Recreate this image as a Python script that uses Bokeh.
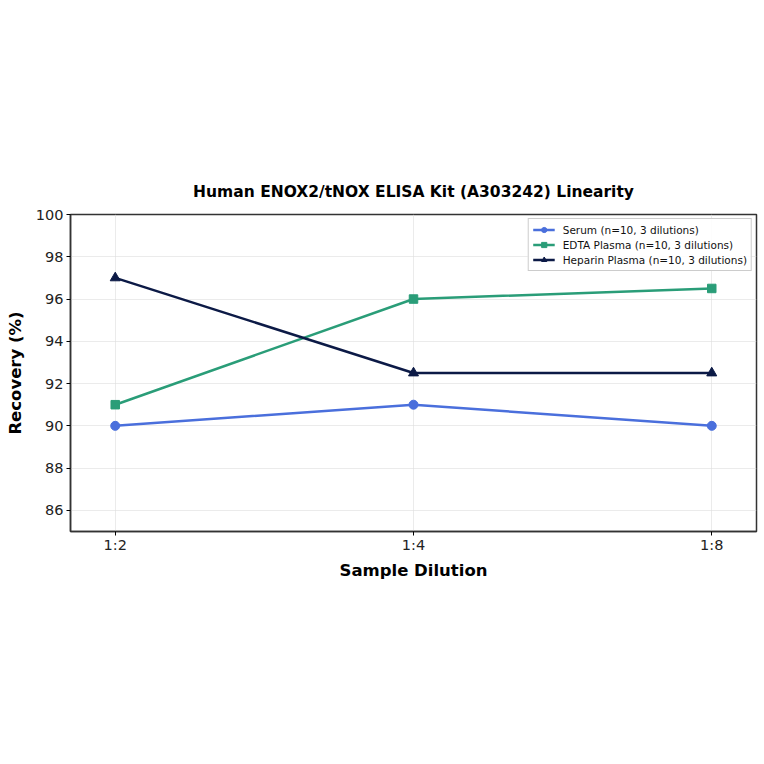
from bokeh.plotting import figure
from bokeh.embed import file_html
from bokeh.resources import INLINE
from bokeh.models import FixedTicker, Range1d, Legend, LegendItem

dilutions = ["1:2", "1:4", "1:8"]
serum = [90.0, 91.0, 90.0]
edta = [91.0, 96.0, 96.5]
heparin = [97.0, 92.5, 92.5]
y_ticks = [86, 88, 90, 92, 94, 96, 98, 100]

FONT = "DejaVu Sans"
xs = list(range(len(dilutions)))

p = figure(width=760, height=748, output_backend="svg", toolbar_location=None,
           x_range=Range1d(-0.15, 2.15), y_range=Range1d(85, 100),
           min_border_left=70, min_border_right=4, min_border_top=214, min_border_bottom=217)

p.title.text = "Human ENOX2/tNOX ELISA Kit (A303242) Linearity"
p.title.text_font = FONT
p.title.text_font_size = "15.5px"
p.title.text_font_style = "bold"
p.title.align = "center"
p.title.text_color = "black"
p.title.offset = 0
p.title.standoff = 27

p.outline_line_color = "#333333"
p.outline_line_width = 1.5

s1 = p.line(xs, serum, line_color="#4a6fdc", line_width=2.5)
m1 = p.scatter(xs, serum, marker="circle", size=9, fill_color="#4a6fdc", line_color="#4a6fdc")
s2 = p.line(xs, edta, line_color="#2a9d78", line_width=2.5)
m2 = p.scatter(xs, edta, marker="square", size=8.5, fill_color="#2a9d78", line_color="#2a9d78")
s3 = p.line(xs, heparin, line_color="#0c1a46", line_width=2.5)
m3 = p.scatter(xs, heparin, marker="triangle", size=10, fill_color="#0c1a46", line_color="#0c1a46")

legend = Legend(items=[
    LegendItem(label="Serum (n=10, 3 dilutions)", renderers=[s1, m1]),
    LegendItem(label="EDTA Plasma (n=10, 3 dilutions)", renderers=[s2, m2]),
    LegendItem(label="Heparin Plasma (n=10, 3 dilutions)", renderers=[s3, m3]),
], location="top_right")
legend.label_text_font = FONT
legend.label_text_font_size = "10.5px"
legend.label_text_color = "#111111"
legend.label_height = 13
legend.glyph_height = 13
legend.glyph_width = 22
legend.label_standoff = 8
legend.spacing = 2
legend.padding = 4
legend.margin = 4
legend.border_line_color = "#cccccc"
legend.border_line_alpha = 1
legend.background_fill_alpha = 0.9
p.add_layout(legend)

p.xaxis.ticker = FixedTicker(ticks=xs)
p.xaxis.major_label_overrides = {i: d for i, d in enumerate(dilutions)}
p.yaxis.ticker = FixedTicker(ticks=y_ticks)

for ax in (p.xaxis, p.yaxis):
    ax.major_label_text_font = FONT
    ax.major_label_text_font_size = "14.5px"
    ax.major_label_text_color = "#222222"
    ax.axis_label_text_font = FONT
    ax.axis_label_text_font_size = "16.5px"
    ax.axis_label_text_font_style = "bold"
    ax.axis_label_text_color = "black"
    ax.minor_tick_line_color = None
    ax.major_tick_out = 4
    ax.major_tick_in = 0
    ax.axis_line_color = "#333333"
    ax.axis_line_width = 1.5

p.xaxis.major_label_standoff = 1
p.yaxis.major_label_standoff = 3
p.yaxis.axis_label_standoff = 8

p.xaxis.axis_label = "Sample Dilution"
p.yaxis.axis_label = "Recovery (%)"

p.xgrid.ticker = FixedTicker(ticks=xs)
p.ygrid.ticker = FixedTicker(ticks=y_ticks)
p.grid.grid_line_color = "#dddddd"
p.grid.grid_line_alpha = 0.6

open("out.html", "w").write(file_html(p, INLINE))
